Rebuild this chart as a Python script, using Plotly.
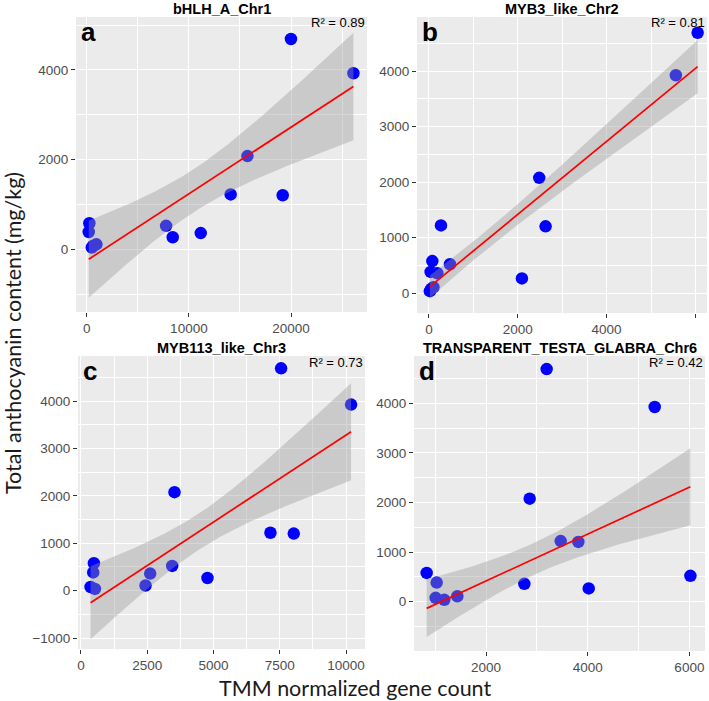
import numpy as np
import plotly.graph_objects as go

# ---------------- data ----------------
anthocyanin = [4690, 3925, 2078, 1222, 1205, 580, 522, 385, 360, 268, 110, 78, 38]

bhlh_a_chr1 = [19990, 26100, 15730, 14090, 19180, 260, 7770, 200, 11160, 8420, 950, 650, 500]
myb3_like_chr2 = [6050, 5560, 2483, 270, 2626, 75, 473, 37, 188, 2093, 100, 50, 20]
myb113_like_chr3 = [7550, 10190, 3530, 7148, 8028, 490, 3442, 465, 2613, 4774, 2437, 364, 528]
ttg_chr6 = [3193, 5318, 2859, 3469, 3816, 833, 6020, 1030, 2754, 4020, 1436, 1010, 1180]

panel_titles = ["bHLH_A_Chr1", "MYB3_like_Chr2", "MYB113_like_Chr3", "TRANSPARENT_TESTA_GLABRA_Chr6"]
panel_letters = ["a", "b", "c", "d"]
r2_labels = ["R² = 0.89", "R² = 0.81", "R² = 0.73", "R² = 0.42"]
gene_counts = [bhlh_a_chr1, myb3_like_chr2, myb113_like_chr3, ttg_chr6]

# fitted regression (as drawn in the figure): intercept, slope
fit_intercept = [-252, 106, -387, -528]
fit_slope = [0.1487, 0.657, 0.367, 0.4727]
# 95% CI half-widths: at left end, minimum, at right end
band_left = [860, 200, 770, 580]
band_min = [480, 170, 380, 320]
band_right = [1200, 480, 1025, 775]

x_title = "TMM normalized gene count"
y_title = "Total anthocyanin content (mg/kg)"

# ---------------- layout geometry (pixels) ----------------
W, H = 709, 701
# left, right, top, bottom
boxes = [(76, 367, 17, 312), (417, 707, 17, 313), (78, 365, 356, 649), (414, 705, 356, 651)]
xranges = [[-1047, 27430], [-270, 6261], [-110, 10715], [584, 6307]]
yranges = [[-1400, 5180], [-355, 4973], [-1230, 4950], [-994, 4954]]
xdticks = [10000, 2000, 2500, 2000]
ydticks = [2000, 1000, 1000, 1000]

fig = go.Figure()
annotations = []

tick_font = dict(family="Liberation Sans, Arial, sans-serif", size=13.5, color="#4D4D4D")

for i in range(4):
    xs = np.array(gene_counts[i], dtype=float)
    ys = np.array(anthocyanin, dtype=float)
    xl, xr = xs.min(), xs.max()
    grid = np.linspace(xl, xr, 100)
    fit = fit_intercept[i] + fit_slope[i] * grid
    hL, h0, hR = band_left[i], band_min[i], band_right[i]
    ratio = np.sqrt((hL ** 2 - h0 ** 2) / (hR ** 2 - h0 ** 2))
    xc = (xl + ratio * xr) / (1 + ratio)
    k = (hR ** 2 - h0 ** 2) / (xr - xc) ** 2
    half = np.sqrt(h0 ** 2 + k * (grid - xc) ** 2)
    lo, hi = fit - half, fit + half

    ax = "" if i == 0 else str(i + 1)
    xref, yref = "x" + ax, "y" + ax

    fig.add_trace(go.Scatter(x=xs, y=ys, mode="markers", xaxis=xref, yaxis=yref,
                             marker=dict(color="#0000FF", size=12.5, line=dict(width=0)),
                             showlegend=False, hoverinfo="skip"))
    fig.add_trace(go.Scatter(x=np.concatenate([grid, grid[::-1]]),
                             y=np.concatenate([hi, lo[::-1]]),
                             fill="toself", fillcolor="rgba(153,153,153,0.4)",
                             line=dict(width=0), mode="lines", xaxis=xref, yaxis=yref,
                             showlegend=False, hoverinfo="skip"))
    fig.add_trace(go.Scatter(x=grid, y=fit, mode="lines", line=dict(color="#FF0000", width=1.7),
                             xaxis=xref, yaxis=yref, showlegend=False, hoverinfo="skip"))

    l, r, t, b = boxes[i]
    common = dict(showgrid=True, gridcolor="white", gridwidth=1.1, zeroline=False,
                  ticks="outside", ticklen=4, tickwidth=1, tickcolor="#333333",
                  tickfont=tick_font, showline=False, tickmode="linear", tick0=0,
                  tickformat="d")
    fig.layout["xaxis" + ax] = dict(common, domain=[l / W, r / W], range=xranges[i],
                                    dtick=xdticks[i], anchor=yref,
                                    minor=dict(dtick=xdticks[i] / 2, tick0=0, showgrid=True,
                                               gridcolor="white", gridwidth=0.5, ticklen=0))
    fig.layout["yaxis" + ax] = dict(common, domain=[1 - b / H, 1 - t / H], range=yranges[i],
                                    dtick=ydticks[i], anchor=xref,
                                    minor=dict(dtick=ydticks[i] / 2, tick0=0, showgrid=True,
                                               gridcolor="white", gridwidth=0.5, ticklen=0))
    fig.add_shape(type="rect", xref="paper", yref="paper", x0=l / W, x1=r / W,
                  y0=1 - b / H, y1=1 - t / H, fillcolor="#EBEBEB", line=dict(width=0),
                  layer="below")

    annotations.append(dict(text="<b>%s</b>" % panel_titles[i], x=(l + r) / 2 / W,
                            y=1 - (t - 8) / H, xref="paper", yref="paper", showarrow=False,
                            xanchor="center", yanchor="middle",
                            font=dict(family="Liberation Sans, Arial", size=14.5, color="black")))
    annotations.append(dict(text="<b>%s</b>" % panel_letters[i], x=(l + 3) / W,
                            y=1 - (t + 15) / H, xref="paper", yref="paper", showarrow=False,
                            xanchor="left", yanchor="middle",
                            font=dict(family="Liberation Sans, Arial", size=26, color="black")))
    annotations.append(dict(text=r2_labels[i], x=r / W, y=1 - (t + 6) / H,
                            xref="paper", yref="paper", showarrow=False,
                            xanchor="right", yanchor="middle",
                            font=dict(family="Liberation Sans, Arial", size=13, color="black")))

annotations.append(dict(text=x_title, x=355 / W, y=1 - 688 / H, xref="paper", yref="paper",
                        showarrow=False, xanchor="center", yanchor="middle",
                        font=dict(family="Lato, Open Sans, sans-serif", size=21.5, color="#1a1a1a")))
annotations.append(dict(text=y_title, x=13 / W, y=1 - 333 / H, xref="paper", yref="paper",
                        showarrow=False, xanchor="center", yanchor="middle", textangle=-90,
                        font=dict(family="Lato, Open Sans, sans-serif", size=21.5, color="#1a1a1a")))

fig.update_layout(width=W, height=H, margin=dict(l=0, r=0, t=0, b=0),
                  paper_bgcolor="white", plot_bgcolor="rgba(0,0,0,0)",
                  annotations=annotations, showlegend=False)

fig.write_html("out.html", config={"displayModeBar": False},
               post_script="document.body.style.margin='0';document.body.style.overflow='hidden';")
